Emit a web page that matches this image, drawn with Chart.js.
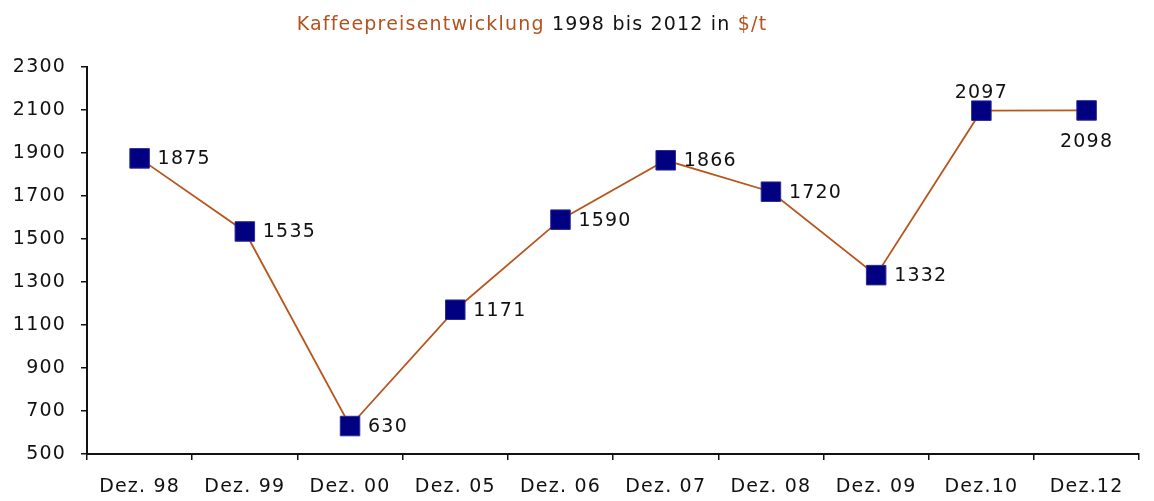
<!DOCTYPE html>
<html>
<head>
<meta charset="utf-8">
<script src="https://cdn.jsdelivr.net/npm/chart.js@4"></script>
<style>
  html, body { margin: 0; padding: 0; background: #fff; }
  #wrap { width: 1154px; height: 501px; }
</style>
</head>
<body>
<div id="wrap"><canvas id="kaffeeChart"></canvas></div>
<script>
// Daten
const monate = ['Dez. 98', 'Dez. 99', 'Dez. 00', 'Dez. 05', 'Dez. 06', 'Dez. 07', 'Dez. 08', 'Dez. 09', 'Dez.10', 'Dez.12'];
const preise = [1875, 1535, 630, 1171, 1590, 1866, 1720, 1332, 2097, 2098];
const labelPos = ['right', 'right', 'right', 'right', 'right', 'right', 'right', 'right', 'top', 'bottom'];
const titelTeile = [
    { text: 'Kaffeepreisentwicklung', color: '#b4521e' },
    { text: ' 1998 bis 2012 in ', color: '#111111' },
    { text: '$/t', color: '#b4521e' }
];

const schrift = '19px "DejaVu Sans", sans-serif';
const abstand = '1.2px';
const braun = '#b8561e';
const navy = '#000080';

// etwas breitere Schrift wie im Original
const abstandPlugin = {
    id: 'abstandPlugin',
    beforeLayout(chart) { chart.ctx.letterSpacing = abstand; },
    beforeDraw(chart) { chart.ctx.letterSpacing = abstand; }
};

// Titel in mehreren Farben
const titelPlugin = {
    id: 'titelPlugin',
    afterDraw(chart) {
        const ctx = chart.ctx;
        ctx.save();
        ctx.font = schrift;
        ctx.letterSpacing = abstand;
        ctx.textBaseline = 'alphabetic';
        ctx.textAlign = 'left';
        const gesamt = titelTeile.reduce((s, t) => s + ctx.measureText(t.text).width, 0);
        let x = 532 - gesamt / 2;
        titelTeile.forEach(t => {
            ctx.fillStyle = t.color;
            ctx.fillText(t.text, x, 30);
            x += ctx.measureText(t.text).width;
        });
        ctx.restore();
    }
};

// Wertebeschriftung an den Punkten
const wertePlugin = {
    id: 'wertePlugin',
    afterDatasetsDraw(chart) {
        const ctx = chart.ctx;
        const meta = chart.getDatasetMeta(0);
        ctx.save();
        ctx.font = schrift;
        ctx.letterSpacing = abstand;
        ctx.fillStyle = '#111111';
        meta.data.forEach((pt, i) => {
            const wert = String(preise[i]);
            const pos = labelPos[i];
            if (pos === 'top') {
                ctx.textAlign = 'center';
                ctx.textBaseline = 'alphabetic';
                ctx.fillText(wert, pt.x, pt.y - 13);
            } else if (pos === 'bottom') {
                ctx.textAlign = 'center';
                ctx.textBaseline = 'top';
                ctx.fillText(wert, pt.x, pt.y + 22);
            } else {
                ctx.textAlign = 'left';
                ctx.textBaseline = 'middle';
                ctx.fillText(wert, pt.x + 18, pt.y + 1);
            }
        });
        ctx.restore();
    }
};

new Chart(document.getElementById('kaffeeChart'), {
    type: 'line',
    data: {
        labels: monate,
        datasets: [{
            data: preise,
            borderColor: braun,
            borderWidth: 1.8,
            tension: 0,
            fill: false,
            pointStyle: 'rect',
            pointRadius: 13.8,
            pointHoverRadius: 13.8,
            pointBackgroundColor: navy,
            pointBorderColor: '#2a2a9a',
            pointBorderWidth: 1
        }]
    },
    options: {
        responsive: true,
        maintainAspectRatio: false,
        animation: false,
        layout: { padding: { top: 67, left: 0, right: 2, bottom: 0 } },
        plugins: {
            legend: { display: false },
            tooltip: { enabled: false }
        },
        scales: {
            y: {
                min: 500,
                max: 2300,
                afterFit: function (scale) { scale.width = 87; },
                ticks: {
                    stepSize: 200,
                    padding: 15,
                    color: '#111111',
                    font: { family: '"DejaVu Sans", sans-serif', size: 19 },
                    callback: function (value) { return String(value); }
                },
                grid: {
                    drawOnChartArea: false,
                    drawTicks: true,
                    tickLength: 6,
                    color: '#111111',
                    lineWidth: 1.5
                },
                border: { display: true, color: '#111111', width: 2 }
            },
            x: {
                offset: true,
                afterFit: function (scale) { scale.height = 47; },
                ticks: {
                    padding: 16,
                    maxRotation: 0,
                    autoSkip: false,
                    color: '#111111',
                    font: { family: '"DejaVu Sans", sans-serif', size: 19 }
                },
                grid: {
                    offset: true,
                    drawOnChartArea: false,
                    drawTicks: true,
                    tickLength: 6,
                    color: '#111111',
                    lineWidth: 1.5
                },
                border: { display: true, color: '#111111', width: 2 }
            }
        }
    },
    plugins: [abstandPlugin, titelPlugin, wertePlugin]
});
</script>
</body>
</html>
